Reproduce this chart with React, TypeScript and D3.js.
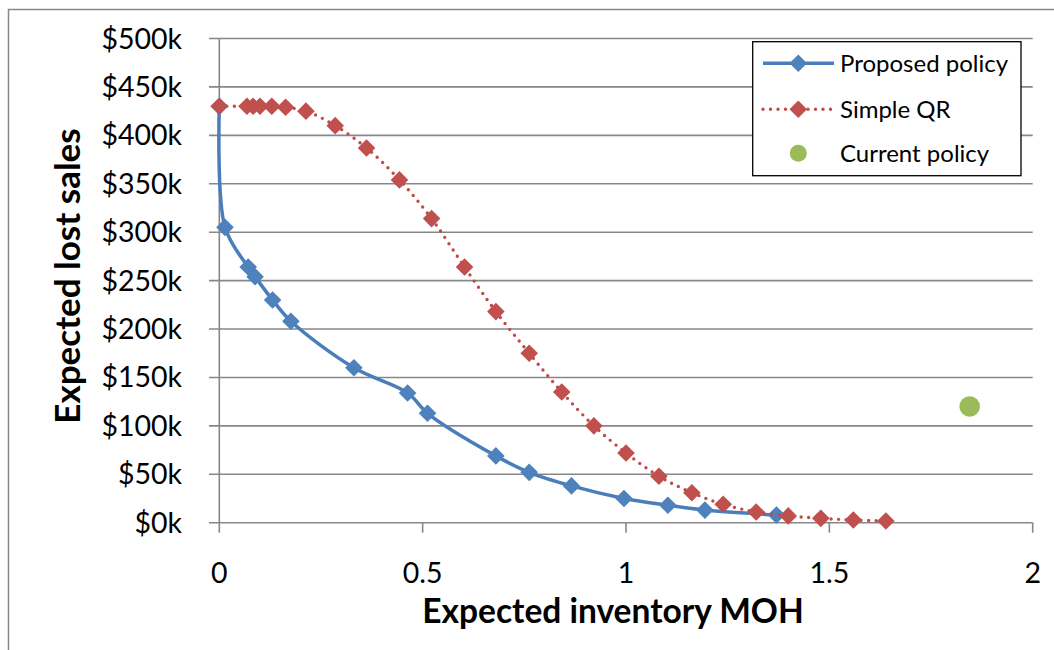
import React from "react";
import * as d3 from "d3";

const proposedX = [0, 0.014, 0.071, 0.088, 0.131, 0.176, 0.331, 0.463, 0.512, 0.68, 0.762, 0.866, 0.995, 1.103, 1.194, 1.37];
const proposedY = [430, 305, 264, 254, 230, 208, 160, 134, 113, 69, 52, 38, 25, 18, 13, 8];

const simpleX = [0, 0.068, 0.083, 0.1, 0.129, 0.163, 0.213, 0.285, 0.362, 0.443, 0.522, 0.603, 0.68, 0.762, 0.842, 0.921, 1.0, 1.081, 1.162, 1.239, 1.32, 1.399, 1.479, 1.559, 1.639];
const simpleY = [430, 430, 430, 430, 430, 429, 425, 410, 387, 354, 314, 264, 218, 175, 135, 100, 72, 48, 31, 19, 11, 7, 4.5, 2.8, 1.8];

const currentX = [1.845];
const currentY = [120];

const yTicks = [0, 50, 100, 150, 200, 250, 300, 350, 400, 450, 500];
const xTicks = [0, 0.5, 1, 1.5, 2];

const seriesNames = ["Proposed policy", "Simple QR", "Current policy"];

const BLUE_LINE = "#4A7EBB";
const BLUE = "#4F81BD";
const RED_LINE = "#BE4B48";
const RED = "#C0504D";
const GREEN = "#9BBB59";
const GRID = "#878787";
const FONT = "Lato, 'Open Sans', sans-serif";

const diamond = "M0,-8.8L8.8,0L0,8.8L-8.8,0Z";

export default function App() {
  const x = d3.scaleLinear().domain([0, 2]).range([219.3, 1032.7]);
  const y = d3.scaleLinear().domain([0, 500]).range([522.7, 38.5]);

  const proposed = proposedX.map((v, i) => [v, proposedY[i]] as [number, number]);
  const simple = simpleX.map((v, i) => [v, simpleY[i]] as [number, number]);
  const current = currentX.map((v, i) => [v, currentY[i]] as [number, number]);

  const line = d3
    .line<[number, number]>()
    .x((d) => x(d[0]))
    .y((d) => y(d[1]))
    .curve(d3.curveCatmullRom.alpha(0.5));

  const legendX = 752.7;
  const legendY = 41.7;
  const rowYs = [63.3, 109.3, 153.3];

  return (
    <svg
      width={1054}
      height={650}
      style={{ position: "absolute", left: 0, top: 0, background: "#fff" }}
    >
      <rect x={0} y={0} width={1054} height={650} fill="#fff" />
      <rect x={8.5} y={9.5} width={1200} height={800} fill="none" stroke={GRID} strokeWidth={1.5} />

      {yTicks.map((t) => (
        <line key={"g" + t} x1={209} x2={x(2)} y1={y(t)} y2={y(t)} stroke={GRID} strokeWidth={1.6} />
      ))}
      <line x1={x(0)} x2={x(0)} y1={y(500)} y2={y(0)} stroke={GRID} strokeWidth={1.6} />
      {xTicks.map((t) => (
        <line key={"xt" + t} x1={x(t)} x2={x(t)} y1={y(0)} y2={y(0) + 10} stroke={GRID} strokeWidth={1.6} />
      ))}

      {yTicks.map((t) => (
        <text
          key={"yl" + t}
          x={182}
          y={y(t) + 10}
          textAnchor="end"
          fontFamily={FONT}
          fontSize={28.5}
          fill="#000"
        >
          {`$${t}k`}
        </text>
      ))}
      {xTicks.map((t) => (
        <text
          key={"xl" + t}
          x={x(t)}
          y={583}
          textAnchor="middle"
          fontFamily={FONT}
          fontSize={28.5}
          fill="#000"
        >
          {String(t)}
        </text>
      ))}

      <text
        x={613}
        y={623}
        textAnchor="middle"
        fontFamily={FONT}
        fontWeight="bold"
        fontSize={33.5}
        fill="#000"
      >
        Expected inventory MOH
      </text>
      <text
        transform="translate(80,276) rotate(-90)"
        textAnchor="middle"
        fontFamily={FONT}
        fontWeight="bold"
        fontSize={35}
        fill="#000"
      >
        Expected lost sales
      </text>

      <path d={line(proposed) ?? ""} fill="none" stroke={BLUE_LINE} strokeWidth={3.5} strokeLinejoin="round" />
      {proposed.map((d, i) => (
        <path key={"p" + i} d={diamond} transform={`translate(${x(d[0])},${y(d[1])})`} fill={BLUE} />
      ))}

      <path
        d={line(simple) ?? ""}
        fill="none"
        stroke={RED_LINE}
        strokeWidth={3.4}
        strokeLinecap="round"
        strokeDasharray="0 7.5"
      />
      {simple.map((d, i) => (
        <path key={"s" + i} d={diamond} transform={`translate(${x(d[0])},${y(d[1])})`} fill={RED} />
      ))}

      {current.map((d, i) => (
        <circle key={"c" + i} cx={x(d[0])} cy={y(d[1])} r={10.3} fill={GREEN} />
      ))}

      <rect x={legendX} y={legendY} width={268.3} height={134} fill="#fff" stroke="#000" strokeWidth={1.3} />
      <line x1={763} x2={834} y1={rowYs[0]} y2={rowYs[0]} stroke={BLUE_LINE} strokeWidth={3.5} />
      <path d={diamond} transform={`translate(798.3,${rowYs[0]})`} fill={BLUE} />
      <line
        x1={763}
        x2={834}
        y1={rowYs[1]}
        y2={rowYs[1]}
        stroke={RED_LINE}
        strokeWidth={3.4}
        strokeLinecap="round"
        strokeDasharray="0 7.5"
      />
      <path d={diamond} transform={`translate(798.3,${rowYs[1]})`} fill={RED} />
      <circle cx={798.3} cy={rowYs[2]} r={8.5} fill={GREEN} />
      {seriesNames.map((n, i) => (
        <text key={n} x={840} y={rowYs[i] + 8.5} fontFamily={FONT} fontSize={24} fill="#000">
          {n}
        </text>
      ))}
    </svg>
  );
}
